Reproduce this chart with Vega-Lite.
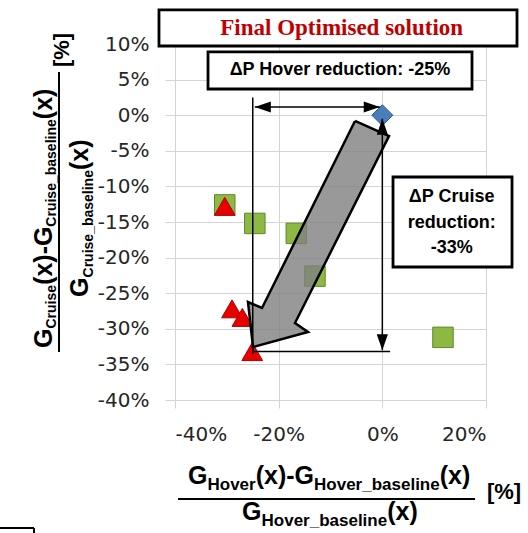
{
  "$schema": "https://vega.github.io/schema/vega-lite/v6.json",
  "width": 311,
  "height": 356,
  "autosize": {"type": "none"},
  "padding": {"left": 175, "top": 44, "right": 42, "bottom": 133},
  "background": "white",
  "config": {"view": {"stroke": null}},
  "datasets": {
    "points": [
      {"series": "Design point", "hover": -30.4, "cruise": -12.6},
      {"series": "Design point", "hover": -24.6, "cruise": -15.2},
      {"series": "Design point", "hover": -16.6, "cruise": -16.6},
      {"series": "Design point", "hover": -13.0, "cruise": -22.6},
      {"series": "Design point", "hover": 11.7, "cruise": -31.2},
      {"series": "Optimised", "hover": -30.4, "cruise": -12.8},
      {"series": "Optimised", "hover": -29.0, "cruise": -27.2},
      {"series": "Optimised", "hover": -27.0, "cruise": -28.4},
      {"series": "Optimised", "hover": -25.1, "cruise": -33.2},
      {"series": "Baseline", "hover": 0, "cruise": 0}
    ],
    "arrow": [
      {"i": 1, "hover": -5.27, "cruise": -0.81},
      {"i": 2, "hover": 1.29, "cruise": -2.92},
      {"i": 3, "hover": -16.85, "cruise": -29.19},
      {"i": 4, "hover": -14.34, "cruise": -30.45},
      {"i": 5, "hover": -24.95, "cruise": -32.56},
      {"i": 6, "hover": -25.92, "cruise": -26.24},
      {"i": 7, "hover": -23.21, "cruise": -27.08},
      {"i": 8, "hover": -5.27, "cruise": -0.81}
    ],
    "guides": [
      {"hover": -25, "cruise": 2.5, "hover2": -25, "cruise2": -33.5},
      {"hover": -24.6, "cruise": 1.15, "hover2": -0.5, "cruise2": 1.15},
      {"hover": 0, "cruise": -0.5, "hover2": 0, "cruise2": -33},
      {"hover": -25, "cruise": -33.2, "hover2": 1.5, "cruise2": -33.2}
    ],
    "heads": [
      {"dir": "left", "hover": -24.6, "cruise": 1.15},
      {"dir": "right", "hover": -0.5, "cruise": 1.15},
      {"dir": "up", "hover": 0, "cruise": -0.5},
      {"dir": "down", "hover": 0, "cruise": -33}
    ],
    "bars": [
      {"hover": -39.42, "cruise": -53.9, "hover2": 17.88, "cruise2": -53.9},
      {"hover": -62.38, "cruise": 6.07, "hover2": -62.38, "cruise2": -33.26},
      {"hover": -73.76, "cruise": -57.98, "hover2": -67.2, "cruise2": -57.98},
      {"hover": -67.2, "cruise": -57.98, "hover2": -67.2, "cruise2": -58.8}
    ],
    "boxes": [
      {"hover": -43.09, "cruise": 14.78, "hover2": 25.98, "cruise2": 9.72},
      {"hover": -33.63, "cruise": 8.88, "hover2": 17.3, "cruise2": 3.68},
      {"hover": 2.06, "cruise": -8.68, "hover2": 25.02, "cruise2": -21.32}
    ],
    "boxText": [
      {"t": "ΔP Hover reduction: -25%", "hover": -8.17, "cruise": 6.35},
      {"t": "ΔP Cruise", "hover": 13.38, "cruise": -11.45},
      {"t": "reduction:", "hover": 13.38, "cruise": -15.18},
      {"t": "-33%", "hover": 13.38, "cruise": -18.69}
    ],
    "finalText": [
      {"t": "Final Optimised solution", "hover": -7.84, "cruise": 12.2}
    ],
    "xBig": [
      {"t": "G", "hover": -37.49, "cruise": -51.8},
      {"t": "(x)-G", "hover": -24.43, "cruise": -51.8},
      {"t": "(x)", "hover": 11.07, "cruise": -51.8},
      {"t": "G", "hover": -27.07, "cruise": -56.85},
      {"t": "(x)", "hover": 0.94, "cruise": -56.85}
    ],
    "xSub": [
      {"t": "Hover", "hover": -33.73, "cruise": -52.64},
      {"t": "Hover_baseline", "hover": -13.18, "cruise": -52.64},
      {"t": "Hover_baseline", "hover": -23.31, "cruise": -57.7}
    ],
    "xUnit": [
      {"t": "[%]", "hover": 20.19, "cruise": -52.92}
    ],
    "yBig": [
      {"t": "G", "hover": -63.73, "cruise": -32.7},
      {"t": "(x)-G", "hover": -63.73, "cruise": -23.83},
      {"t": "(x)", "hover": -63.73, "cruise": -0.56},
      {"t": "G", "hover": -56.78, "cruise": -25.53},
      {"t": "(x)", "hover": -56.78, "cruise": -7.71}
    ],
    "ySub": [
      {"t": "Cruise", "hover": -62.96, "cruise": -29.96},
      {"t": "Cruise_baseline", "hover": -62.96, "cruise": -15.65},
      {"t": "Cruise_baseline", "hover": -55.82, "cruise": -22.79}
    ],
    "yUnit": [
      {"t": "[%]", "hover": -61.8, "cruise": 9.16}
    ]
  },
  "encoding": {
    "x": {"field": "hover", "type": "quantitative", "title": null,
      "scale": {"domain": [-40, 20], "nice": false, "zero": false},
      "axis": {"values": [-40, -20, 0, 20], "labelExpr": "datum.value + '%'", "grid": true, "gridColor": "#D4D4D4", "gridWidth": 1, "domain": false, "ticks": true, "tickColor": "#D4D4D4", "tickSize": 8, "labelFont": "DejaVu Sans", "labelFontSize": 20, "labelColor": "#262626", "labelPadding": 16, "labelOverlap": false}},
    "y": {"field": "cruise", "type": "quantitative", "title": null,
      "scale": {"domain": [-40, 10], "nice": false, "zero": false},
      "axis": {"values": [-40, -35, -30, -25, -20, -15, -10, -5, 0, 5, 10], "labelExpr": "datum.value + '%'", "grid": true, "gridColor": "#D4D4D4", "gridWidth": 1, "domain": false, "ticks": true, "tickColor": "#D4D4D4", "tickSize": 10, "labelFont": "DejaVu Sans", "labelFontSize": 20, "labelColor": "#262626", "labelPadding": 16, "labelOverlap": false}}
  },
  "resolve": {"scale": {"shape": "independent"}},
  "layer": [
    {
      "data": {"name": "points"},
      "mark": {"type": "point", "filled": true, "strokeWidth": 1, "opacity": 1},
      "encoding": {
        "shape": {"field": "series", "type": "nominal", "legend": null,
          "scale": {"domain": ["Design point", "Optimised", "Baseline"], "range": ["square", "triangle-up", "diamond"]}},
        "fill": {"field": "series", "type": "nominal", "legend": null,
          "scale": {"domain": ["Design point", "Optimised", "Baseline"], "range": ["#8DB843", "#E60000", "#4A7EBB"]}},
        "stroke": {"field": "series", "type": "nominal", "legend": null,
          "scale": {"domain": ["Design point", "Optimised", "Baseline"], "range": ["#5E8A26", "#B00000", "#2F5D91"]}},
        "size": {"field": "series", "type": "nominal", "legend": null,
          "scale": {"domain": ["Design point", "Optimised", "Baseline"], "range": [420, 440, 220]}}
      }
    },
    {
      "data": {"name": "arrow"},
      "mark": {"type": "line", "fill": "#7F7F7F", "fillOpacity": 0.8, "stroke": "black", "strokeWidth": 2.5, "strokeJoin": "miter"},
      "encoding": {
        "order": {"field": "i", "type": "quantitative"}
      }
    },
    {
      "data": {"name": "guides"},
      "mark": {"type": "rule", "color": "black", "strokeWidth": 1.5},
      "encoding": {
        "x2": {"field": "hover2"},
        "y2": {"field": "cruise2"}
      }
    },
    {
      "data": {"name": "heads"},
      "mark": {"type": "point", "filled": true, "color": "black", "opacity": 1, "size": 256},
      "encoding": {
        "shape": {"field": "dir", "type": "nominal", "legend": null,
          "scale": {"domain": ["left", "right", "up", "down"], "range": ["M0,0L2,-0.7L2,0.7Z", "M0,0L-2,-0.7L-2,0.7Z", "M0,0L-0.7,2L0.7,2Z", "M0,0L-0.7,-2L0.7,-2Z"]}}
      }
    },
    {
      "data": {"name": "bars"},
      "mark": {"type": "rule", "color": "black", "strokeWidth": 2},
      "encoding": {
        "x2": {"field": "hover2"},
        "y2": {"field": "cruise2"}
      }
    },
    {
      "data": {"name": "boxes"},
      "mark": {"type": "rect", "fill": "white", "stroke": "black", "strokeWidth": 2.8},
      "encoding": {
        "x2": {"field": "hover2"},
        "y2": {"field": "cruise2"}
      }
    },
    {
      "data": {"name": "boxText"},
      "mark": {"type": "text", "font": "Liberation Sans", "fontWeight": "bold", "fontSize": 18, "color": "black", "align": "center", "baseline": "middle"},
      "encoding": {
        "text": {"field": "t", "type": "nominal"}
      }
    },
    {
      "data": {"name": "finalText"},
      "mark": {"type": "text", "font": "Liberation Serif", "fontWeight": "bold", "fontSize": 23, "color": "#C00000", "align": "center", "baseline": "middle"},
      "encoding": {
        "text": {"field": "t", "type": "nominal"}
      }
    },
    {
      "data": {"name": "xBig"},
      "mark": {"type": "text", "font": "Liberation Sans", "fontWeight": "bold", "fontSize": 25, "color": "black", "align": "left", "baseline": "alphabetic"},
      "encoding": {
        "text": {"field": "t", "type": "nominal"}
      }
    },
    {
      "data": {"name": "xSub"},
      "mark": {"type": "text", "font": "Liberation Sans", "fontWeight": "bold", "fontSize": 17, "color": "black", "align": "left", "baseline": "alphabetic"},
      "encoding": {
        "text": {"field": "t", "type": "nominal"}
      }
    },
    {
      "data": {"name": "xUnit"},
      "mark": {"type": "text", "font": "Liberation Sans", "fontWeight": "bold", "fontSize": 22, "color": "black", "align": "left", "baseline": "middle"},
      "encoding": {
        "text": {"field": "t", "type": "nominal"}
      }
    },
    {
      "data": {"name": "yBig"},
      "mark": {"type": "text", "font": "Liberation Sans", "fontWeight": "bold", "fontSize": 25, "color": "black", "align": "left", "baseline": "alphabetic", "angle": 270},
      "encoding": {
        "text": {"field": "t", "type": "nominal"}
      }
    },
    {
      "data": {"name": "ySub"},
      "mark": {"type": "text", "font": "Liberation Sans", "fontWeight": "bold", "fontSize": 14, "color": "black", "align": "left", "baseline": "alphabetic", "angle": 270},
      "encoding": {
        "text": {"field": "t", "type": "nominal"}
      }
    },
    {
      "data": {"name": "yUnit"},
      "mark": {"type": "text", "font": "Liberation Sans", "fontWeight": "bold", "fontSize": 22, "color": "black", "align": "center", "baseline": "middle", "angle": 270},
      "encoding": {
        "text": {"field": "t", "type": "nominal"}
      }
    }
  ]
}
